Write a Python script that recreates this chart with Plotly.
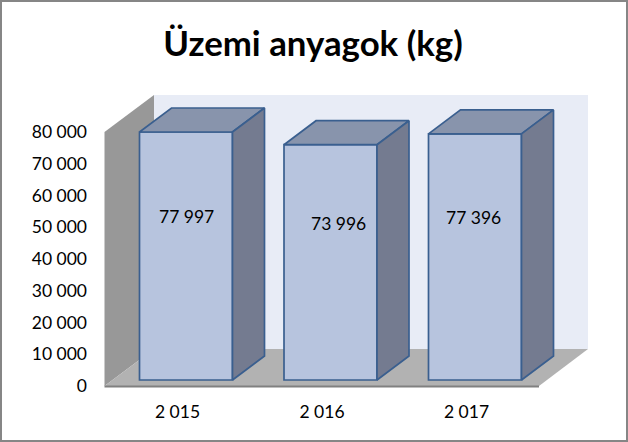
import plotly.graph_objects as go

title = "Üzemi anyagok (kg)"
years = [2015, 2016, 2017]
year_labels = ["2 015", "2 016", "2 017"]
values = [77997, 73996, 77396]
value_labels = ["77 997", "73 996", "77 396"]
y_ticks = [0, 10000, 20000, 30000, 40000, 50000, 60000, 70000, 80000]
y_tick_labels = ["0", "10 000", "20 000", "30 000", "40 000", "50 000", "60 000", "70 000", "80 000"]

W, H = 628, 442
FONT = "Lato"
PX_PER_YEAR = 144.5
PX_PER_UNIT = 248 / 77997
BAR_W = 93 / PX_PER_YEAR


def xv(px):
    return 2015 + (px - 186) / PX_PER_YEAR


def yv(py):
    return (380 - py) / PX_PER_UNIT


DX = 32 / PX_PER_YEAR
DY = 24 / PX_PER_UNIT
EDGE = "#3A5F8F"
LW = 1.7

fig = go.Figure()
fig.add_trace(go.Bar(x=years, y=values, width=BAR_W, marker=dict(color="#B7C4DE", line=dict(color=EDGE, width=LW)),
                     hoverinfo="skip", showlegend=False))

for year, v in zip(years, values):
    l, r = year - BAR_W / 2, year + BAR_W / 2
    fig.add_trace(go.Scatter(x=[l, r, r + DX, l + DX, l], y=[v, v, v + DY, v + DY, v], mode="lines", fill="toself",
                             fillcolor="#8894AC", line=dict(color=EDGE, width=LW), hoverinfo="skip", showlegend=False))
    fig.add_trace(go.Scatter(x=[r, r + DX, r + DX, r, r], y=[0, DY, v + DY, v, 0], mode="lines", fill="toself",
                             fillcolor="#747B90", line=dict(color=EDGE, width=LW), hoverinfo="skip", showlegend=False))

# invisible trace that carries the offset tick axes
fig.add_trace(go.Scatter(x=years, y=values, xaxis="x2", yaxis="y2", mode="markers", marker=dict(opacity=0),
                         hoverinfo="skip", showlegend=False))


def poly(pts):
    return "M" + " L".join(f"{xv(a)},{yv(b)}" for a, b in pts) + " Z"


shapes = [
    dict(type="path", path=poly([(154, 95), (588, 95), (588, 349), (154, 349)]), fillcolor="#E8ECF6", line_width=0, layer="below"),
    dict(type="path", path=poly([(104.5, 132), (154, 95), (154, 349), (104.5, 386)]), fillcolor="#989898", line_width=0, layer="below"),
    dict(type="path", path=poly([(104.5, 386), (154, 349), (588, 349), (539, 386)]), fillcolor="#B2B2B2", line_width=0, layer="below"),
    dict(type="line", x0=xv(104.5), x1=xv(539), y0=yv(386.5), y1=yv(386.5), line=dict(color="#808080", width=2), layer="below"),
    dict(type="rect", xref="paper", yref="paper", x0=0, x1=1, y0=0, y1=1, line=dict(color="#868686", width=4), fillcolor="rgba(0,0,0,0)"),
]

shifts = [0, 7.5, -2]
lifts = [40, 39, 39]
annotations = [
    dict(x=y, y=v / 2, text=t, showarrow=False, xshift=sx, yshift=sy, font=dict(family=FONT, size=17.5, color="#000000"))
    for y, v, t, sx, sy in zip(years, values, value_labels, shifts, lifts)
]

fig.update_layout(
    width=W, height=H, margin=dict(l=0, r=0, t=0, b=0, pad=0, autoexpand=False), paper_bgcolor="white", plot_bgcolor="rgba(0,0,0,0)",
    title=dict(text=title, x=313 / W, xanchor="center", y=1 - 44 / H, yanchor="middle", automargin=False,
               font=dict(family=FONT, size=34.8, color="#000000", weight="bold")),
    xaxis=dict(range=[xv(0), xv(W)], domain=[0, 1], visible=False, fixedrange=True, automargin=False),
    yaxis=dict(range=[yv(H), yv(0)], domain=[0, 1], visible=False, fixedrange=True, automargin=False),
    xaxis2=dict(range=[xv(8.5), xv(W + 8.5)], domain=[0, 1], anchor="free", position=(H - 399) / H, tickmode="array",
                tickvals=years, ticktext=year_labels, showgrid=False, zeroline=False, showline=False, ticks="",
                tickfont=dict(family=FONT, size=17.5, color="#000000"), fixedrange=True, automargin=False),
    yaxis2=dict(range=[0, 80000], domain=[(H - 386) / H, (H - 132) / H], anchor="free", position=87 / W, tickmode="array",
                tickvals=y_ticks, ticktext=y_tick_labels, showgrid=False, zeroline=False, showline=False, ticks="",
                tickfont=dict(family=FONT, size=17.5, color="#000000"), fixedrange=True, automargin=False),
    shapes=shapes, annotations=annotations, showlegend=False,
)
fig.write_html("out.html", config={"displayModeBar": False},
               post_script="document.documentElement.style.overflow='hidden';document.body.style.margin='0';")
